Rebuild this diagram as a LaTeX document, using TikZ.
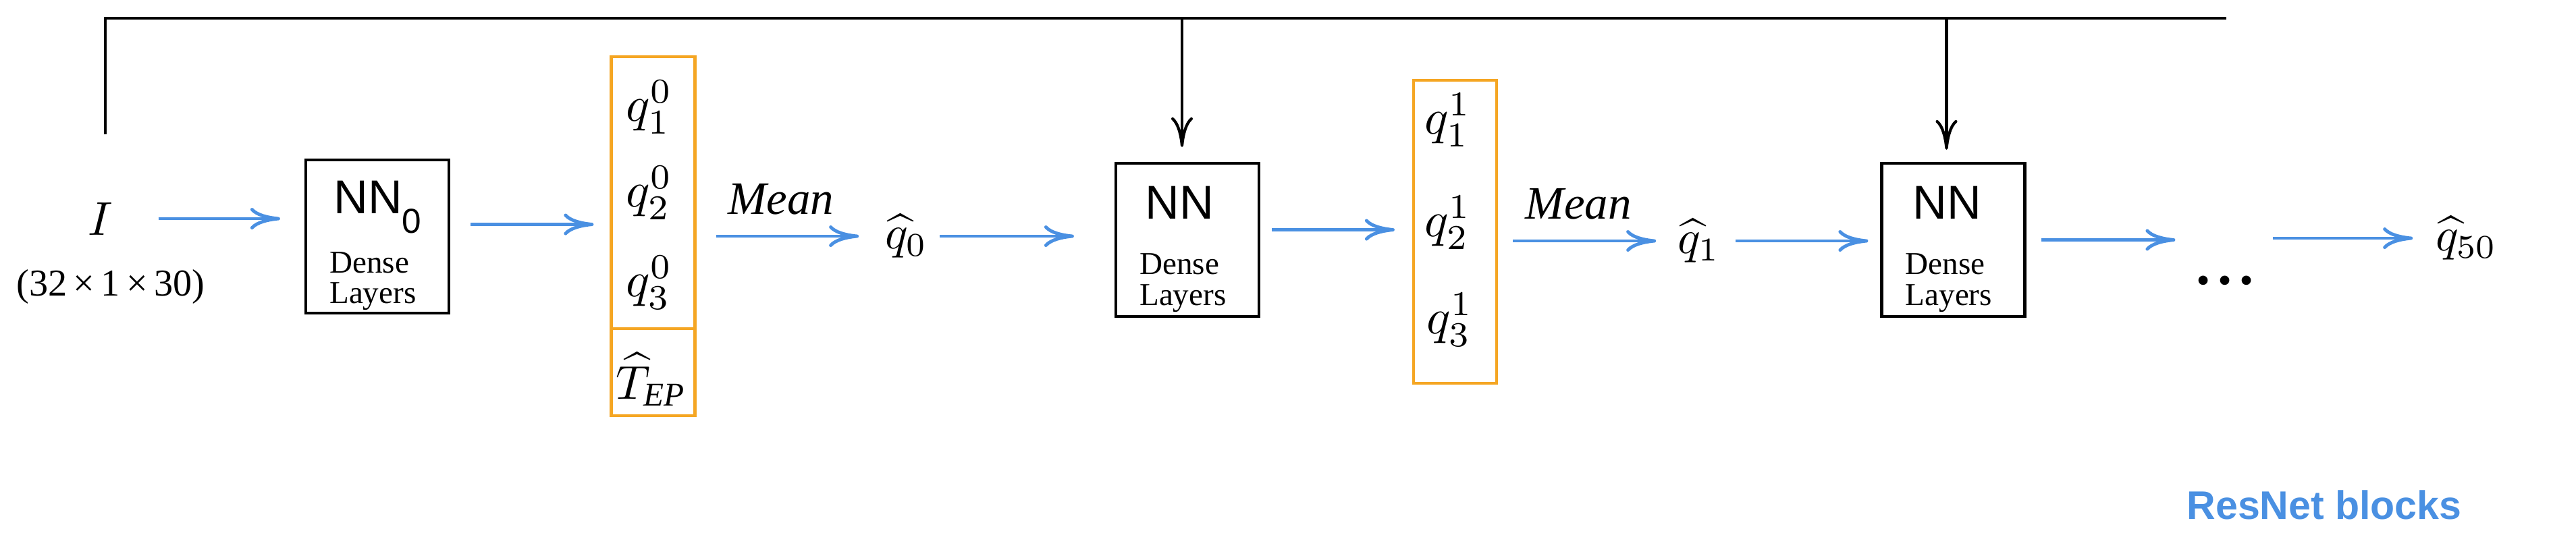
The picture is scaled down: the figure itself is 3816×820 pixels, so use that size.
\RequirePackage{fix-cm}
\documentclass[tikz,border=0pt]{standalone}
\usepackage{amsmath}
\usepackage{fontspec}
\setmainfont{Liberation Serif}
\setsansfont{Liberation Sans}
\usepackage{tikz}
\usetikzlibrary{arrows.meta, positioning, calc}
\usepackage{color}
\definecolor{flowblue}{HTML}{4A90E2}
\definecolor{boxorange}{HTML}{F5A623}

\begin{document}
\begin{tikzpicture}[x=0.05mm, y=-0.05mm, >={Computer Modern Rightarrow[length=2.2mm,width=1.6mm]}]
\tikzstyle{nnbox}=[draw=black, line width=0.6pt, minimum width=10.6mm, minimum height=11.35mm, inner sep=0pt]
\tikzstyle{qbox}=[draw=boxorange, line width=0.6pt, minimum width=6.2mm, inner sep=0pt]
\tikzstyle{flow}=[->, draw=flowblue, line width=0.7pt]
\tikzstyle{feed}=[->, draw=black, line width=0.6pt]
\tikzstyle{mathlbl}=[inner sep=0pt, font=\fontsize{10}{12}\selectfont]
\tikzstyle{qlbl}=[inner sep=0pt, font=\fontsize{10.5}{12}\selectfont]
\tikzstyle{meanlbl}=[inner sep=0pt, font=\itshape\fontsize{9.8}{11}\selectfont]
\tikzstyle{nnlbl}=[inner sep=0pt, anchor=base west, font=\sffamily\fontsize{10}{12}\selectfont]
\tikzstyle{denselbl}=[inner sep=0pt, anchor=base west, font=\fontsize{6.7}{7}\selectfont]
\useasboundingbox (0,0) rectangle (3816,820);
% input
\node[mathlbl]  (I)   at (149,324) {$I$};
\node[inner sep=0pt, font=\fontsize{8}{9}\selectfont] (DIM) at (164,425) {(32\,×\,1\,×\,30)};
% first block
\node[nnbox]    (NN0) at (559,350.5) {};
\node[nnlbl]    (NN0t) at ($(NN0.north west)+(42,82)$) {NN\raisebox{-4.1pt}{\fontsize{7.3}{8}\selectfont 0}};
\node[denselbl] (NN0d) at ($(NN0.north west)+(36,170)$) {Dense};
\node[denselbl] (NN0l) at ($(NN0.north west)+(36,215)$) {Layers};
\node[qbox, minimum height=20.15mm] (Q0)  at (967.5,285.5) {};
\node[qbox, minimum height=6.45mm]  (TEP) at (967.5,551.5) {};
\node[qlbl] (Q01) at (962,159) {$q_1^0$};
\node[qlbl] (Q02) at (962,286) {$q_2^0$};
\node[qlbl] (Q03) at (962,419) {$q_3^0$};
\node[mathlbl] (TEPt) at (965,562) {$\widehat{T}_{\textit{EP}}$};
\node[mathlbl] (H0) at (1343,350) {$\widehat{q}_0$};
% second block
\node[nnbox]    (NN1) at (1759,355.5) {};
\node[nnlbl]    (NN1t) at ($(NN1.north west)+(44,85)$) {NN};
\node[denselbl] (NN1d) at ($(NN1.north west)+(36,167)$) {Dense};
\node[denselbl] (NN1l) at ($(NN1.north west)+(36,213)$) {Layers};
\node[qbox, minimum width=6.15mm, minimum height=22.45mm] (Q1) at (2155.5,343.5) {};
\node[qlbl] (Q11) at (2145,178) {$q_1^1$};
\node[qlbl] (Q12) at (2145,330) {$q_2^1$};
\node[qlbl] (Q13) at (2148,474) {$q_3^1$};
\node[mathlbl] (H1) at (2517,357) {$\widehat{q}_1$};
% third block
\node[nnbox]    (NN2) at (2893.5,355.5) {};
\node[nnlbl]    (NN2t) at ($(NN2.north west)+(47,85)$) {NN};
\node[denselbl] (NN2d) at ($(NN2.north west)+(36,167)$) {Dense};
\node[denselbl] (NN2l) at ($(NN2.north west)+(36,213)$) {Layers};
\node[inner sep=0pt, anchor=base, font=\bfseries\fontsize{12}{14}\selectfont] (D) at (3296,421) {.\hspace{1.5pt}.\hspace{1.5pt}.};
\node[mathlbl] (H50) at (3654,353) {$\widehat{q}_{50}$};
\node[inner sep=0pt, text=flowblue, font=\sffamily\bfseries\fontsize{8.4}{10}\selectfont] (RN) at (3443,748) {ResNet blocks};
% skip line from the input
\coordinate (FB) at (156,199);
\coordinate (FE) at (3298,27);
\draw[line width=0.6pt] (FB) |- (FE);
\draw[feed, shorten >=1.1mm] ([xshift=-0.4mm]NN1.north |- FE) -- ([xshift=-0.4mm]NN1.north);
\draw[feed, shorten >=0.9mm] ([xshift=-0.5mm]NN2.north |- FE) -- ([xshift=-0.5mm]NN2.north);
% forward path
\draw[flow, shorten <=3.3mm, shorten >=1.8mm] (I.east) -- (I.east -| NN0.west);
\draw[flow, shorten <=1.5mm, shorten >=1.2mm] ([yshift=0.9mm]NN0.east) -- ([yshift=0.9mm]NN0.east -| Q0.west);
\draw[flow, shorten <=1.45mm, shorten >=1.9mm] (Q0.east |- H0.west) -- node[meanlbl, above=1.45mm, pos=0.45] {Mean} (H0.west);
\draw[flow, shorten <=0.8mm, shorten >=3mm] (H0.east) -- (H0.east -| NN1.west);
\draw[flow, shorten <=0.85mm, shorten >=1.3mm] ([yshift=0.75mm]NN1.east) -- ([yshift=0.75mm]NN1.east -| Q1.west);
\draw[flow, shorten <=1.1mm, shorten >=1.55mm] (Q1.east |- H1.west) -- node[meanlbl, above=1.45mm, pos=0.45] {Mean} (H1.west);
\draw[flow, shorten <=1.05mm, shorten >=0.9mm] (H1.east) -- (H1.east -| NN2.west);
\draw[flow, shorten <=1.1mm, shorten >=1.5mm] (NN2.east) -- (NN2.east -| D.west);
\draw[flow, shorten <=1.35mm, shorten >=1.65mm] (D.east |- H50.west) -- (H50.west);
\end{tikzpicture}
\end{document}
